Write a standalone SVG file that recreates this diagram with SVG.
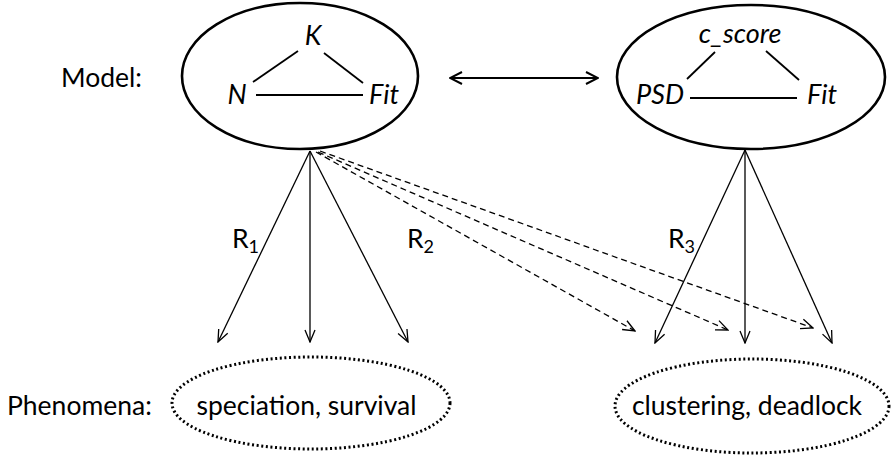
<svg xmlns="http://www.w3.org/2000/svg" width="894" height="459" viewBox="0 0 894 459">
<defs>
<style>
text{font-family:Lato,"Liberation Sans",sans-serif;fill:#000}
.lbl{font-size:26.5px}
.it{font-size:27px;font-style:italic}
.model{fill:none;stroke:#000;stroke-width:2.6}
.phen{fill:none;stroke:#000;stroke-width:3;stroke-dasharray:2 2.6}
.tri{stroke:#000;stroke-width:1.8;fill:none}
.arr{stroke:#000;stroke-width:1.3;fill:none;marker-end:url(#ah)}
.dash{stroke:#000;stroke-width:1.3;fill:none;stroke-dasharray:6 4;marker-end:url(#ah)}
.dbl{stroke:#000;stroke-width:2.2;fill:none;marker-end:url(#ah2);marker-start:url(#ah2s)}
</style>
<marker id="ah" viewBox="0 0 14 12" refX="13" refY="6" markerWidth="14" markerHeight="12" markerUnits="userSpaceOnUse" orient="auto">
<path d="M1,1 L13,6 L1,11" fill="none" stroke="#000" stroke-width="1.3"/>
</marker>
<marker id="ah2" viewBox="0 0 14 14" refX="13" refY="7" markerWidth="14" markerHeight="14" markerUnits="userSpaceOnUse" orient="auto">
<path d="M1,1 L13,7 L1,13" fill="none" stroke="#000" stroke-width="2"/>
</marker>
<marker id="ah2s" viewBox="0 0 14 14" refX="1" refY="7" markerWidth="14" markerHeight="14" markerUnits="userSpaceOnUse" orient="auto">
<path d="M13,1 L1,7 L13,13" fill="none" stroke="#000" stroke-width="2"/>
</marker>
</defs>

<text class="lbl" x="61" y="87">Model:</text>
<text class="lbl" x="7" y="415">Phenomena:</text>

<g id="model1">
<ellipse class="model" cx="300" cy="76" rx="118" ry="73"/>
<text class="it" x="313" y="45" text-anchor="middle">K</text>
<text class="it" x="237" y="104" text-anchor="middle">N</text>
<text class="it" x="384" y="104" text-anchor="middle">Fit</text>
<line class="tri" x1="253" y1="82" x2="298" y2="51"/>
<line class="tri" x1="324" y1="53" x2="363" y2="83"/>
<line class="tri" x1="256" y1="95" x2="363" y2="95"/>
</g>

<g id="model2">
<ellipse class="model" cx="751" cy="77" rx="134" ry="72"/>
<text class="it" x="740" y="43" text-anchor="middle">c_score</text>
<text class="it" x="660" y="104" text-anchor="middle">PSD</text>
<text class="it" x="822" y="104" text-anchor="middle">Fit</text>
<line class="tri" x1="687" y1="79" x2="715" y2="52"/>
<line class="tri" x1="766" y1="51" x2="799" y2="80"/>
<line class="tri" x1="690" y1="98" x2="797" y2="98"/>
</g>

<g id="phen1">
<ellipse class="phen" cx="311" cy="403" rx="139" ry="46"/>
<text class="lbl" x="306.5" y="415" text-anchor="middle">speciation, survival</text>
</g>

<g id="phen2">
<ellipse class="phen" cx="752" cy="406" rx="137" ry="47"/>
<text class="lbl" x="747" y="415" text-anchor="middle">clustering, deadlock</text>
</g>

<g id="connectors">
<line class="dbl" x1="450" y1="78" x2="598" y2="78"/>
<line class="arr" x1="310" y1="151" x2="218" y2="342"/>
<line class="arr" x1="310" y1="151" x2="310" y2="342"/>
<line class="arr" x1="310" y1="151" x2="408" y2="342"/>
<line class="arr" x1="745" y1="150" x2="655" y2="343"/>
<line class="arr" x1="745" y1="150" x2="745" y2="343"/>
<line class="arr" x1="745" y1="150" x2="832" y2="343"/>
<line class="dash" x1="316" y1="152" x2="635" y2="331"/>
<line class="dash" x1="318" y1="152" x2="728" y2="330"/>
<line class="dash" x1="320" y1="151" x2="813" y2="328"/>
</g>

<g id="labels">
<text class="lbl" x="232" y="248">R<tspan font-size="18" dy="5">1</tspan></text>
<text class="lbl" x="407" y="248">R<tspan font-size="18" dy="5">2</tspan></text>
<text class="lbl" x="668" y="248">R<tspan font-size="18" dy="5">3</tspan></text>
</g>
</svg>
